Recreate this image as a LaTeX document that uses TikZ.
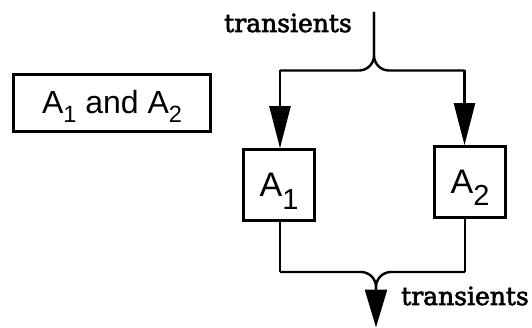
\documentclass[tikz,border=0pt]{standalone}
\usepackage{fontspec}
\setmainfont{DejaVu Serif}
\newfontfamily\trfont[FakeBold=2.5]{DejaVu Serif}
\newfontfamily\hvfont{Liberation Sans}
\usetikzlibrary{arrows.meta}
\newcommand\lowidx[3]{\raisebox{-#2pt}{\fontsize{#1pt}{#1pt}\selectfont #3}}
\tikzset{
  wire/.style={line width=2.4pt, line join=miter},
  bigtip/.style={-{Triangle[length=42pt,width=21pt]}},
  sinktip/.style={-{Triangle[length=38pt,width=22pt]}},
  box/.style={draw, line width=2.6pt, inner sep=0pt, font=\hvfont\fontsize{34pt}{34pt}\selectfont, text height=24pt, text depth=0pt},
  lbl/.style={inner sep=0pt, font=\trfont\fontsize{25pt}{25pt}\selectfont},
}
\begin{document}
\begin{tikzpicture}[x=1pt,y=-1pt]
\useasboundingbox (0,0) rectangle (532,328);
% boxes
\node[box, line width=2.8pt, minimum width=197pt, minimum height=57pt, text height=22pt, font=\hvfont\fontsize{32pt}{32pt}\selectfont] (both) at (112,103) {A\lowidx{23.5}{9}{1} and A\lowidx{23.5}{9}{2}};
\node[box, minimum width=71.5pt, minimum height=71pt] (A1) at (279,185) {A\lowidx{29}{13}{1}};
\node[box, minimum width=71.5pt, minimum height=71pt] (A2) at (470,182) {A\lowidx{29}{12}{2}};
% labels
\node[lbl, anchor=base west] (t1) at (224,32) {transients};
\node[lbl, anchor=base west] (t2) at (401,305) {transients};
% top split
\coordinate (src) at (374,12);
\coordinate (split) at (374,70.5);
\coordinate (lc) at (280,70.5);
\coordinate (rc) at (464.5,70.5);
\draw[wire, rounded corners=15pt] (src) -- (split) -- (lc);
\draw[wire, rounded corners=15pt] (src) -- (split) -- (rc);
\draw[wire, bigtip] (lc) -- (lc |- A1.north);
\draw[wire, bigtip] (rc) -- (rc |- A2.north);
% bottom merge
\coordinate (bl) at (280,272);
\coordinate (br) at (465,272);
\coordinate (merge) at (376,272);
\coordinate (sink) at (376,327.5);
\draw[wire] (A1.south -| bl) -- (bl);
\draw[wire] (A2.south -| br) -- (br);
\draw[wire, rounded corners=15pt] (bl) -- (merge) -- (376,300);
\draw[wire, rounded corners=15pt, sinktip] (br) -- (merge) -- (sink);
\end{tikzpicture}
\end{document}
